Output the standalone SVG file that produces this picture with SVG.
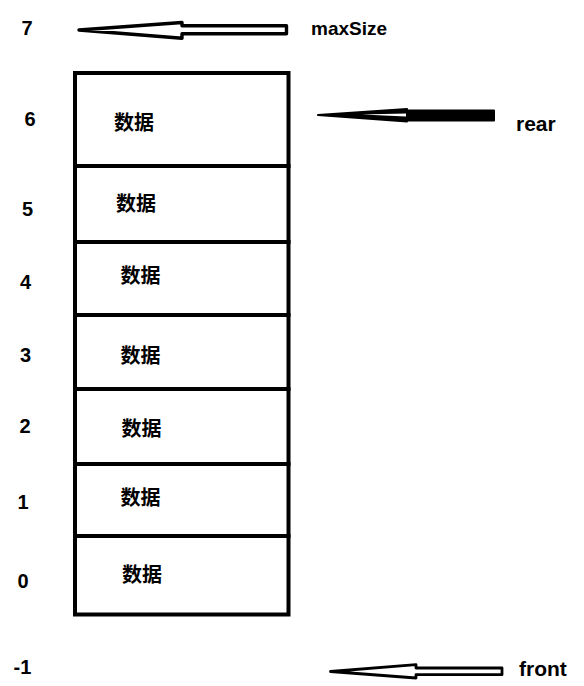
<svg xmlns="http://www.w3.org/2000/svg" width="584" height="686" viewBox="0 0 584 686">
<style>
.cell{fill:#fff;stroke:#000;stroke-width:4}
.lbl{font-family:"Liberation Sans","Noto Sans CJK SC",sans-serif;font-weight:bold;font-size:20px;fill:#000;text-anchor:middle}
.idx{font-family:"Liberation Sans",sans-serif;font-weight:bold;font-size:20px;fill:#000;text-anchor:middle}
.name{font-family:"Liberation Sans",sans-serif;font-weight:bold;fill:#000}
.hollow{fill:#fff;stroke:#000;stroke-linejoin:round}
</style>
<rect width="584" height="686" fill="#fff"/>
<g id="indices">
<text class="idx" x="27" y="35">7</text>
<text class="idx" x="30" y="126">6</text>
<text class="idx" x="27.5" y="216">5</text>
<text class="idx" x="25.5" y="289">4</text>
<text class="idx" x="25.5" y="362">3</text>
<text class="idx" x="25" y="433">2</text>
<text class="idx" x="23" y="509">1</text>
<text class="idx" x="23" y="588">0</text>
<text class="idx" x="22.5" y="674">-1</text>
</g>
<g id="cell6"><rect class="cell" x="75" y="73" width="213.5" height="93"/><text class="lbl" x="134" y="130">数据</text></g>
<g id="cell5"><rect class="cell" x="75" y="166" width="213.5" height="76"/><text class="lbl" x="136" y="211">数据</text></g>
<g id="cell4"><rect class="cell" x="75" y="242" width="213.5" height="73"/><text class="lbl" x="140.5" y="283">数据</text></g>
<g id="cell3"><rect class="cell" x="75" y="315" width="213.5" height="74"/><text class="lbl" x="140.5" y="363">数据</text></g>
<g id="cell2"><rect class="cell" x="75" y="389" width="213.5" height="75"/><text class="lbl" x="141.5" y="436">数据</text></g>
<g id="cell1"><rect class="cell" x="75" y="464" width="213.5" height="72"/><text class="lbl" x="140.5" y="505">数据</text></g>
<g id="cell0"><rect class="cell" x="75" y="536" width="213.5" height="78.5"/><text class="lbl" x="142" y="582">数据</text></g>
<g id="maxSize"><text class="name" x="311" y="35" font-size="19">maxSize</text></g>
<g id="rear"><text class="name" x="516" y="131" font-size="21">rear</text></g>
<g id="front"><text class="name" x="519" y="676" font-size="21">front</text></g>
<g id="connectors">
<polygon class="hollow" stroke-width="3.4" points="79,30 182,22.5 182,25.7 286.5,25.7 286.5,33.7 182,33.7 182,38.3"/>
<polygon fill="#000" stroke="#000" stroke-width="2" stroke-linejoin="round" points="318,115 407,109 407,110.5 494,110.5 494,120.5 407,120.5 407,121.5"/>
<polygon fill="#fff" points="362,114.6 406,113.6 406,116.4"/>
<polygon class="hollow" stroke-width="2.8" points="330.5,671.5 416,664.7 416,668 502,668 502,674.7 416,674.7 416,678"/>
</g>
</svg>
